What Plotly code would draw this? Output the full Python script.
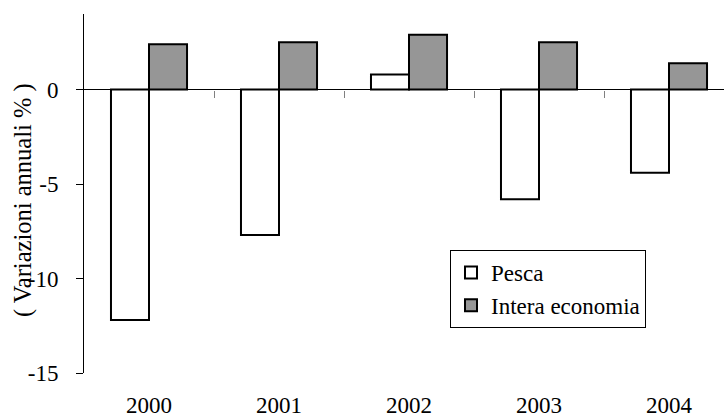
import plotly.graph_objects as go

# Annual percentage changes: fishing sector vs whole economy
years = ["2000", "2001", "2002", "2003", "2004"]
pesca = [-12.2, -7.7, 0.8, -5.8, -4.4]
intera_economia = [2.4, 2.5, 2.9, 2.5, 1.4]

y_range = [-15, 4]
y_ticks = [-15, -10, -5, 0]
y_ticktext = [str(v) for v in y_ticks]

FONT = "'Liberation Serif', 'Times New Roman', Times, serif"
FS = 23

fig = go.Figure()
fig.add_trace(go.Bar(
    x=years, y=pesca, name="Pesca",
    marker=dict(color="white", line=dict(color="black", width=2)),
))
fig.add_trace(go.Bar(
    x=years, y=intera_economia, name="Intera economia",
    marker=dict(color="#969696", line=dict(color="black", width=2)),
))
# helper axis carrying the category-boundary ticks along the zero line
fig.add_trace(go.Scatter(x=[], y=[], xaxis="x2", showlegend=False, hoverinfo="skip"))

n = len(years)
x_range = [-0.5, n - 0.5 - 10 / 130]
boundaries = [i + 0.5 for i in range(n - 1)]
zero_pos = (0 - y_range[0]) / (y_range[1] - y_range[0])

fig.update_layout(
    width=724, height=417,
    margin=dict(l=84, r=0, t=14, b=44),
    paper_bgcolor="white", plot_bgcolor="white",
    font=dict(family=FONT, size=FS, color="black"),
    barmode="group", bargap=0.415, bargroupgap=0,
    showlegend=True,
    legend=dict(
        x=(450 - 84) / 640, y=(373 - 250) / 359, xanchor="left", yanchor="top",
        bgcolor="white", bordercolor="black", borderwidth=1,
        font=dict(family=FONT, size=FS), traceorder="normal",
    ),
    xaxis=dict(
        type="category", range=x_range, showline=False, showgrid=False,
        zeroline=False, ticks="", ticklabelstandoff=16, automargin=False,
    ),
    xaxis2=dict(
        overlaying="x", anchor="free", position=zero_pos, range=x_range,
        tickvals=boundaries, ticks="outside", ticklen=7, tickcolor="#808080",
        tickwidth=1, showticklabels=False, showline=False, showgrid=False,
        zeroline=False, automargin=False,
    ),
    yaxis=dict(
        range=y_range, tickvals=y_ticks, ticktext=y_ticktext, ticks="outside",
        ticklen=7, tickcolor="black", tickwidth=1, showline=True,
        linecolor="black", linewidth=1, zeroline=True, zerolinecolor="black",
        zerolinewidth=1, showgrid=False, ticklabelstandoff=13, automargin=False,
    ),
    annotations=[dict(
        text="( Variazioni annuali % )", textangle=-90, xref="paper", yref="paper",
        x=(23 - 84) / 640, y=(373 - 200) / 359, xanchor="center", yanchor="middle",
        showarrow=False, font=dict(family=FONT, size=24.5),
    )],
)

fig.write_html("out.html")
